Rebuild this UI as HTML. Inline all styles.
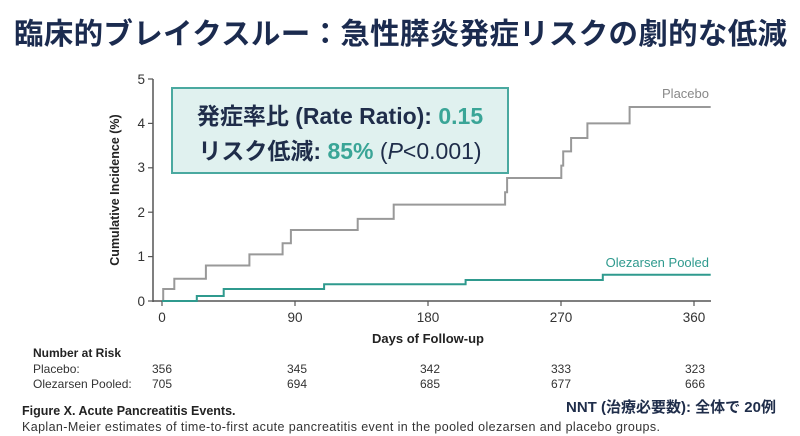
<!DOCTYPE html>
<html><head><meta charset="utf-8"><style>
body{margin:0;background:#fff;}
svg{display:block;font-family:"Liberation Sans","Noto Sans CJK JP",sans-serif;}
</style></head><body>
<svg width="800" height="436" viewBox="0 0 800 436" xmlns="http://www.w3.org/2000/svg">
<rect width="800" height="436" fill="#fff"/>
<text x="14" y="44" font-size="29.5" font-weight="bold" fill="#1b2b4f" letter-spacing="0.3" font-family="'Noto Sans CJK JP',sans-serif">臨床的ブレイクスルー：急性膵炎発症リスクの劇的な低減</text>
<!-- axes -->
<line x1="153" y1="79" x2="153" y2="302" stroke="#555" stroke-width="1.5"/>
<line x1="153" y1="301" x2="711" y2="301" stroke="#555" stroke-width="1.5"/>
<g stroke="#555" stroke-width="1.2">
<line x1="148" y1="79" x2="153" y2="79"/><line x1="148" y1="123.4" x2="153" y2="123.4"/><line x1="148" y1="167.8" x2="153" y2="167.8"/><line x1="148" y1="212.2" x2="153" y2="212.2"/><line x1="148" y1="256.6" x2="153" y2="256.6"/><line x1="148" y1="301" x2="153" y2="301"/>
<line x1="162" y1="301" x2="162" y2="306"/><line x1="295" y1="301" x2="295" y2="306"/><line x1="428" y1="301" x2="428" y2="306"/><line x1="561" y1="301" x2="561" y2="306"/><line x1="694" y1="301" x2="694" y2="306"/>
</g>
<g font-size="13.5" fill="#333" text-anchor="end">
<text x="145" y="84">5</text><text x="145" y="128">4</text><text x="145" y="172">3</text><text x="145" y="217">2</text><text x="145" y="261">1</text><text x="145" y="306">0</text>
</g>
<g font-size="13.5" fill="#333" text-anchor="middle">
<text x="162" y="322">0</text><text x="295" y="322">90</text><text x="428" y="322">180</text><text x="561" y="322">270</text><text x="694" y="322">360</text>
</g>
<text x="428" y="343" font-size="13" font-weight="bold" fill="#222" text-anchor="middle">Days of Follow-up</text>
<text transform="translate(119,190) rotate(-90)" font-size="12.5" font-weight="bold" fill="#222" text-anchor="middle">Cumulative Incidence (%)</text>
<!-- curves -->
<polyline fill="none" stroke="#999" stroke-width="2" points="162,301 163.2,301 163.2,289 174.3,289 174.3,278.8 205.9,278.8 205.9,265.5 249.4,265.5 249.4,254.4 282.6,254.4 282.6,243.3 290.9,243.3 290.9,230 357.7,230 357.7,218.9 393.7,218.9 393.7,204.6 505.1,204.6 505.1,192.2 507.1,192.2 507.1,178 561.3,178 561.3,165.6 563.2,165.6 563.2,151.4 571.1,151.4 571.1,138 587.4,138 587.4,123.4 629.6,123.4 629.6,107 710.7,107"/>
<polyline fill="none" stroke="#2f9a8e" stroke-width="2" points="162,301 196.8,301 196.8,296 223.7,296 223.7,289 324.1,289 324.1,284.3 465.6,284.3 465.6,280 602.8,280 602.8,274.7 710.7,274.7"/>
<text x="709" y="98" font-size="13" fill="#888" text-anchor="end">Placebo</text>
<text x="709" y="267" font-size="13" fill="#2f9a8e" text-anchor="end">Olezarsen Pooled</text>
<!-- box -->
<rect x="172" y="88" width="336" height="85" fill="#e0f1ef" stroke="#4aa9a0" stroke-width="2"/>
<text x="340" y="124" font-size="23" font-weight="bold" fill="#1f2d4a" text-anchor="middle">発症率比 (Rate Ratio): <tspan fill="#3aa597">0.15</tspan></text>
<text x="340" y="159" font-size="23" fill="#1f2d4a" text-anchor="middle"><tspan font-weight="bold">リスク低減: </tspan><tspan font-weight="bold" fill="#3aa597">85%</tspan>  (<tspan font-style="italic">P</tspan>&lt;0.001)</text>
<!-- risk table -->
<text x="33" y="357" font-size="12" font-weight="bold" fill="#222">Number at Risk</text>
<g font-size="12" fill="#333">
<text x="33" y="373">Placebo:</text><text x="33" y="388">Olezarsen Pooled:</text>
</g>
<g font-size="12" fill="#333" text-anchor="middle">
<text x="162" y="373">356</text><text x="297" y="373">345</text><text x="430" y="373">342</text><text x="561" y="373">333</text><text x="695" y="373">323</text>
<text x="162" y="388">705</text><text x="297" y="388">694</text><text x="430" y="388">685</text><text x="561" y="388">677</text><text x="695" y="388">666</text>
</g>
<text x="22" y="415" font-size="12.5" font-weight="bold" fill="#222">Figure X. Acute Pancreatitis Events.</text>
<text x="22" y="431" font-size="12.5" fill="#333" textLength="638" lengthAdjust="spacing">Kaplan-Meier estimates of time-to-first acute pancreatitis event in the pooled olezarsen and placebo groups.</text>
<text x="776" y="412" font-size="15" font-weight="bold" fill="#1f2d4a" text-anchor="end">NNT (治療必要数): 全体で 20例</text>
</svg>
</body></html>
